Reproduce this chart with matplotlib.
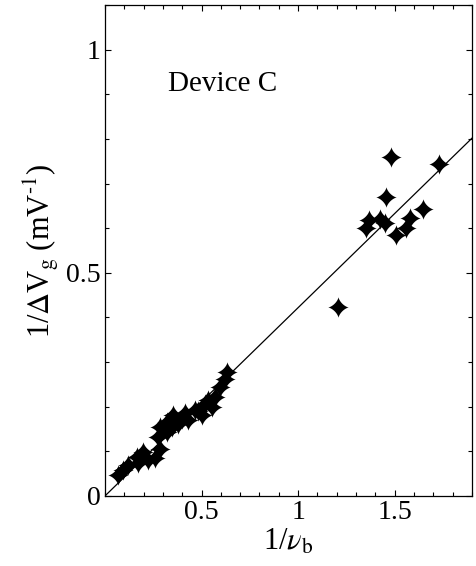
import numpy as np
import matplotlib
matplotlib.use("Agg")
from matplotlib import pyplot as plt
from matplotlib.path import Path
from matplotlib.ticker import MultipleLocator, FixedLocator, FixedFormatter

# datos
x_bajo = [0.069, 0.095, 0.121, 0.164, 0.173, 0.198, 0.224, 0.259, 0.285, 0.276,
          0.285, 0.319, 0.319, 0.345, 0.354, 0.380, 0.397, 0.414, 0.431, 0.466,
          0.483, 0.500, 0.518, 0.535, 0.552, 0.569, 0.595, 0.621, 0.630]
y_bajo = [0.047, 0.058, 0.069, 0.088, 0.073, 0.099, 0.080, 0.084, 0.106, 0.132,
          0.155, 0.166, 0.144, 0.155, 0.181, 0.162, 0.173, 0.185, 0.170, 0.192,
          0.190, 0.181, 0.207, 0.214, 0.199, 0.222, 0.244, 0.263, 0.278]
x_alto = [1.208, 1.350, 1.366, 1.423, 1.450, 1.455, 1.480, 1.505, 1.560, 1.578,
          1.648, 1.730]
y_alto = [0.424, 0.601, 0.618, 0.620, 0.612, 0.670, 0.760, 0.585, 0.601, 0.624,
          0.642, 0.743]
pendiente = 0.422
x_ticks = [0.5, 1, 1.5]
x_etiquetas = ["0.5", "1", "1.5"]
y_ticks = [0, 0.5, 1]
y_etiquetas = ["0", "0.5", "1"]

plt.rcParams['font.family'] = ['Liberation Serif', 'DejaVu Serif']
plt.rcParams['mathtext.fontset'] = 'stix'

# marcador de estrella de cuatro puntas (lados concavos)
t = np.linspace(0, 2*np.pi, 161)
c = np.cos(t)
s = np.sin(t)
vx = np.sign(c)*np.abs(c)**2.9
vy = np.sign(s)*np.abs(s)**2.9
estrella = Path(np.column_stack([vx, vy]))

fig = plt.figure(figsize=(4.77, 5.66), dpi=100)
ax = fig.add_axes([0.220, 0.1237, 0.7695, 0.8673])

xs = np.array([0, 1.9])
ax.plot(xs, pendiente*xs, color="black", lw=0.9)
ax.plot(x_bajo + x_alto, y_bajo + y_alto, linestyle="none", marker=estrella,
        markersize=15, color="black", markeredgewidth=0)

ax.set_xlim(0, 1.9)
ax.set_ylim(0, 1.1)
ax.xaxis.set_major_locator(FixedLocator(x_ticks))
ax.xaxis.set_major_formatter(FixedFormatter(x_etiquetas))
ax.xaxis.set_minor_locator(MultipleLocator(0.1))
ax.yaxis.set_major_locator(FixedLocator(y_ticks))
ax.yaxis.set_major_formatter(FixedFormatter(y_etiquetas))
ax.yaxis.set_minor_locator(MultipleLocator(0.1))
ax.tick_params(which="both", direction="in", top=True, right=True, width=0.8)
ax.tick_params(which="major", length=4, labelsize=20, pad=3)
ax.tick_params(which="minor", length=3)
for lado in ax.spines.values():
    lado.set_linewidth(0.9)

ax.set_xlabel(r"1/$\nu_{\rm b}$", fontsize=22, labelpad=2)
ax.set_ylabel("1/$\\Delta$V$_{\\rm g}$ (mV$^{\\rm \u2010 1}$)", fontsize=22, labelpad=4)
ax.text(0.326, 0.908, "Device C", fontsize=21)

plt.savefig("out.png", dpi=100)
